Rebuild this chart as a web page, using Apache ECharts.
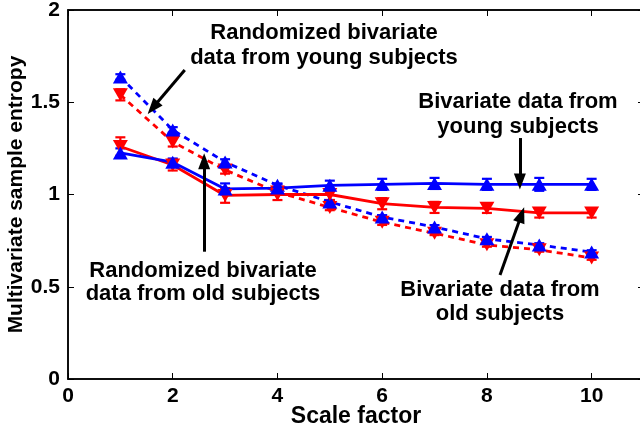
<!DOCTYPE html>
<html><head><meta charset="utf-8">
<script src="https://cdn.jsdelivr.net/npm/echarts@6/dist/echarts.min.js"></script>
<style>html,body{margin:0;padding:0;background:#fff}#c{width:640px;height:425px}</style>
</head><body><div id="c"></div>
<script>
const scaleFactors = [1,2,3,4,5,6,7,8,9,10];
const youngBiv = [1.225,1.175,1.03,1.035,1.05,1.055,1.06,1.055,1.055,1.055];
const youngBivErr = [0.025,0.02,0.03,0.02,0.025,0.03,0.03,0.03,0.035,0.03];
const oldBiv = [1.26,1.16,0.995,1.0,1.0,0.95,0.93,0.925,0.9,0.9];
const oldBivErr = [0.05,0.03,0.04,0.03,0.03,0.03,0.03,0.025,0.025,0.025];
const youngRand = [1.637,1.35,1.176,1.05,0.96,0.878,0.824,0.76,0.726,0.688];
const youngRandErr = [0.015,0.015,0.015,0.01,0.01,0.01,0.01,0.01,0.01,0.01];
const oldRand = [1.54,1.285,1.133,1.013,0.93,0.85,0.79,0.727,0.70,0.656];
const oldRandErr = [0.03,0.025,0.02,0.015,0.015,0.015,0.01,0.01,0.01,0.01];
const xTicks = [0,2,4,6,8,10];
const yTicks = [0,0.5,1,1.5,2];

const FONT = '"Liberation Sans", Arial, sans-serif';
const chart = echarts.init(document.getElementById('c'), null, {renderer:'canvas'});

function pairs(vals){ return scaleFactors.map((x,i)=>[x, vals[i]]); }
function errData(vals, errs){ return scaleFactors.map((x,i)=>[x, vals[i]-errs[i], vals[i]+errs[i]]); }
function errSeries(vals, errs, color){
  return {
    type:'custom', data: errData(vals, errs), z:3, silent:true,
    renderItem: function(params, api){
      const lo = api.coord([api.value(0), api.value(1)]);
      const hi = api.coord([api.value(0), api.value(2)]);
      const w = 5;
      const st = {stroke: color, lineWidth: 2.2};
      return {type:'group', children:[
        {type:'line', shape:{x1:lo[0],y1:lo[1],x2:hi[0],y2:hi[1]}, style:st},
        {type:'line', shape:{x1:lo[0]-w,y1:lo[1],x2:lo[0]+w,y2:lo[1]}, style:st},
        {type:'line', shape:{x1:hi[0]-w,y1:hi[1],x2:hi[0]+w,y2:hi[1]}, style:st}
      ]};
    }
  };
}
function lineSeries(name, vals, color, dashed, up){
  return {
    type:'line', name: name, data: pairs(vals), z:4,
    symbol:'triangle', symbolSize:[15,13], symbolRotate: up?0:180,
    itemStyle:{color: color},
    lineStyle:{color: color, width: 2.8, type: dashed ? [6,5] : 'solid'},
    animation:false
  };
}
const arrowLines = [
  [[2.23,1.675],[1.62,1.47]],
  [[8.63,1.306],[8.63,1.07]],
  [[2.6,0.69],[2.6,1.18]],
  [[8.25,0.564],[8.66,0.89]]
];

const texts = [
  ['Randomized bivariate',324,33],['data from young subjects',324,58],
  ['Bivariate data from',518,102],['young subjects',518,127],
  ['Randomized bivariate',203,271],['data from old subjects',203,294],
  ['Bivariate data from',500,290],['old subjects',500,314]
];

function axisCommon(){
  return {
    axisLine:{show:true, onZero:false, lineStyle:{color:'#000', width:1.5}},
    axisTick:{show:true, inside:true, length:6, lineStyle:{color:'#000', width:1}},
    splitLine:{show:false}
  };
}

chart.setOption({
  animation:false,
  backgroundColor:'#fff',
  grid:{left:68, right:-4, top:10, bottom:46, containLabel:false, outerBoundsMode:'none',
        show:true, borderColor:'#000', borderWidth:1.5, backgroundColor:'transparent'},
  xAxis:[
    Object.assign({type:'value', min:0, max:11, interval:2, position:'bottom',
      name:'Scale factor', nameLocation:'middle', nameGap:26, nameMoveOverlap:false,
      nameTextStyle:{fontFamily:FONT, fontWeight:'bold', fontSize:23, color:'#000'},
      axisLabel:{fontFamily:FONT, fontWeight:'bold', fontSize:21, color:'#000', margin:7,
        formatter: v => xTicks.includes(v) ? String(v) : ''}}, axisCommon()),
    Object.assign({type:'value', min:0, max:11, interval:2, position:'top', gridIndex:0,
      axisLabel:{show:false}}, axisCommon())
  ],
  yAxis:[
    Object.assign({type:'value', min:0, max:2, interval:0.5, position:'left',
      name:'Multivariate sample entropy', nameLocation:'middle', nameGap:41, nameMoveOverlap:false,
      nameTextStyle:{fontFamily:FONT, fontWeight:'bold', fontSize:21, color:'#000'},
      axisLabel:{fontFamily:FONT, fontWeight:'bold', fontSize:21, color:'#000', margin:8,
        formatter: v => yTicks.includes(v) ? String(v) : ''}}, axisCommon()),
    Object.assign({type:'value', min:0, max:2, interval:0.5, position:'right', gridIndex:0,
      axisLabel:{show:false}}, axisCommon())
  ],
  series:[
    errSeries(oldRand, oldRandErr, '#ff0000'),
    lineSeries('Randomized old', oldRand, '#ff0000', true, false),
    errSeries(youngRand, youngRandErr, '#0000ff'),
    lineSeries('Randomized young', youngRand, '#0000ff', true, true),
    errSeries(oldBiv, oldBivErr, '#ff0000'),
    lineSeries('Bivariate old', oldBiv, '#ff0000', false, false),
    errSeries(youngBiv, youngBivErr, '#0000ff'),
    lineSeries('Bivariate young', youngBiv, '#0000ff', false, true),
    {
      type:'line', name:'arrows', data:[], z:6, silent:true,
      markLine:{
        silent:true, animation:false,
        symbol:['none','triangle'], symbolSize:[12,16],
        label:{show:false},
        lineStyle:{color:'#000', width:3, type:'solid'},
        data: arrowLines.map(a => [{coord:a[0]},{coord:a[1]}])
      }
    }
  ],
  graphic: texts.map(t => ({
    type:'text', x:t[1], y:t[2], z:10,
    style:{text:t[0], x:0, y:0, textAlign:'center', textVerticalAlign:'middle',
      font:'bold 22px ' + FONT, fill:'#000'}
  }))
});
</script></body></html>
